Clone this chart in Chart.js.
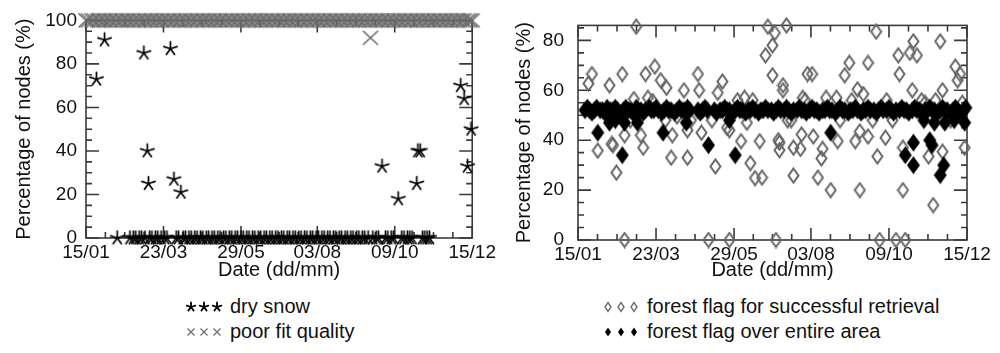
<!DOCTYPE html>
<html><head><meta charset="utf-8">
<script src="https://cdn.jsdelivr.net/npm/chart.js@4.4.0/dist/chart.umd.min.js"></script>
<style>
html,body{margin:0;padding:0;background:#fff;width:1000px;height:353px;overflow:hidden;font-family:"Liberation Sans",Arial,Helvetica,sans-serif;}
.wrap{position:absolute;top:0;width:500px;height:285px;}
.leg{position:absolute;font-size:20px;color:#111;white-space:nowrap;}
.leg .row{display:flex;align-items:center;height:25px;}
.leg svg{margin-right:6px;display:block;}
</style></head><body>
<div class="wrap" style="left:0"><canvas id="c1" width="500" height="285"></canvas></div>
<div class="wrap" style="left:500px"><canvas id="c2" width="500" height="285"></canvas></div>

<div class="leg" style="left:186px;top:294px">
  <div class="row"><svg width="38" height="12" viewBox="0 0 38 12">
    <g stroke="#000" stroke-width="1.8" stroke-linecap="round">
      <path d="M5 6V1.5M5 6L9.3 4.6M5 6L7.6 9.6M5 6L2.4 9.6M5 6L0.7 4.6"/>
      <path d="M18 6V1.5M18 6L22.3 4.6M18 6L20.6 9.6M18 6L15.4 9.6M18 6L13.7 4.6"/>
      <path d="M31 6V1.5M31 6L35.3 4.6M31 6L33.6 9.6M31 6L28.4 9.6M31 6L26.7 4.6"/>
    </g></svg><span>dry snow</span></div>
  <div class="row"><svg width="38" height="12" viewBox="0 0 38 12">
    <g stroke="#707070" stroke-width="1.3">
      <path d="M1.5 2.5L8.5 9.5M8.5 2.5L1.5 9.5"/>
      <path d="M14.5 2.5L21.5 9.5M21.5 2.5L14.5 9.5"/>
      <path d="M27.5 2.5L34.5 9.5M34.5 2.5L27.5 9.5"/>
    </g></svg><span>poor fit quality</span></div>
</div>

<div class="leg" style="left:603px;top:294px">
  <div class="row"><svg width="38" height="12" viewBox="0 0 38 12">
    <g stroke="#707070" stroke-width="1.4" fill="none">
      <path d="M5 1.5L8 6L5 10.5L2 6Z"/>
      <path d="M18 1.5L21 6L18 10.5L15 6Z"/>
      <path d="M31 1.5L34 6L31 10.5L28 6Z"/>
    </g></svg><span>forest flag for successful retrieval</span></div>
  <div class="row"><svg width="38" height="12" viewBox="0 0 38 12">
    <g fill="#000">
      <path d="M5 1.5L8 6L5 10.5L2 6Z"/>
      <path d="M18 1.5L21 6L18 10.5L15 6Z"/>
      <path d="M31 1.5L34 6L31 10.5L28 6Z"/>
    </g></svg><span>forest flag over entire area</span></div>
</div>

<script>
// ---------- axis ticks ----------
const xTickDays   = [15, 82, 149, 215, 282, 349];
const xTickLabels = ['15/01', '23/03', '29/05', '03/08', '09/10', '15/12'];
const leftYTicks  = [0, 20, 40, 60, 80, 100];
const rightYTicks = [0, 20, 40, 60, 80];

// ---------- left panel: dry snow (day of year, %) ----------
const snowDays = [24, 31, 65, 68, 69, 88, 91, 97, 271, 285, 301, 302, 304, 339, 342, 345, 348,
  42, 53, 56, 58, 61, 63, 66, 70, 72, 75,
  77, 80, 83, 85, 93, 95, 99, 101, 104, 106,
  109, 111, 114, 116, 119, 121, 124, 126, 129, 131,
  134, 136, 139, 141, 144, 146, 149, 151, 154, 156,
  159, 161, 164, 166, 169, 171, 174, 176, 179, 181,
  184, 186, 189, 191, 194, 196, 199, 201, 204, 206,
  209, 211, 214, 216, 219, 221, 224, 226, 229, 231,
  234, 236, 239, 241, 244, 246, 249, 251, 254, 256,
  259, 263, 266, 268, 274, 276, 279, 281, 288, 290,
  293, 295, 297, 306, 308, 310, 312];
const snowPct = [73, 91, 85, 40, 25, 87, 27, 21, 33, 18, 25, 40, 40, 70, 64, 33, 50,
  0, 0, 0, 0, 0, 0, 0, 0, 0, 0,
  0, 0, 0, 0, 0, 0, 0, 0, 0, 0,
  0, 0, 0, 0, 0, 0, 0, 0, 0, 0,
  0, 0, 0, 0, 0, 0, 0, 0, 0, 0,
  0, 0, 0, 0, 0, 0, 0, 0, 0, 0,
  0, 0, 0, 0, 0, 0, 0, 0, 0, 0,
  0, 0, 0, 0, 0, 0, 0, 0, 0, 0,
  0, 0, 0, 0, 0, 0, 0, 0, 0, 0,
  0, 0, 0, 0, 0, 0, 0, 0, 0, 0,
  0, 0, 0, 0, 0, 0, 0];

// ---------- left panel: poor fit quality ----------
const poorDays = [15, 17, 20, 22, 25, 27, 30, 32, 35, 37,
  40, 42, 45, 47, 50, 52, 55, 57, 60, 62,
  65, 67, 70, 72, 75, 77, 80, 82, 85, 87,
  90, 92, 95, 97, 100, 102, 105, 107, 110, 112,
  115, 117, 120, 122, 125, 127, 130, 132, 135, 137,
  140, 142, 145, 147, 150, 152, 155, 157, 160, 162,
  165, 167, 170, 172, 175, 177, 180, 182, 185, 187,
  190, 192, 195, 197, 200, 202, 205, 207, 210, 212,
  215, 217, 220, 222, 225, 227, 230, 232, 235, 237,
  240, 242, 245, 247, 250, 252, 255, 257, 260, 262,
  265, 267, 270, 272, 275, 277, 280, 282, 285, 287,
  290, 292, 295, 297, 300, 302, 305, 307, 310, 312,
  315, 317, 320, 322, 325, 327, 330, 332, 335, 337,
  340, 342, 345, 347, 349, 261];
const poorPct = [100, 100, 100, 100, 100, 100, 100, 100, 100, 100,
  100, 100, 100, 100, 100, 100, 100, 100, 100, 100,
  100, 100, 100, 100, 100, 100, 100, 100, 100, 100,
  100, 100, 100, 100, 100, 100, 100, 100, 100, 100,
  100, 100, 100, 100, 100, 100, 100, 100, 100, 100,
  100, 100, 100, 100, 100, 100, 100, 100, 100, 100,
  100, 100, 100, 100, 100, 100, 100, 100, 100, 100,
  100, 100, 100, 100, 100, 100, 100, 100, 100, 100,
  100, 100, 100, 100, 100, 100, 100, 100, 100, 100,
  100, 100, 100, 100, 100, 100, 100, 100, 100, 100,
  100, 100, 100, 100, 100, 100, 100, 100, 100, 100,
  100, 100, 100, 100, 100, 100, 100, 100, 100, 100,
  100, 100, 100, 100, 100, 100, 100, 100, 100, 100,
  100, 100, 100, 100, 100, 92];

// ---------- right panel: forest flag for successful retrieval ----------
const retrDays = [24, 27, 32, 42, 44, 45, 48, 53, 55, 55,
  63, 65, 69, 71, 73, 79, 81, 86, 91, 95,
  96, 100, 106, 109, 109, 118, 119, 121, 127, 133,
  135, 139, 143, 145, 145, 152, 155, 158, 163, 167,
  171, 173, 176, 178, 198, 182, 182, 184, 185, 188,
  188, 191, 191, 194, 200, 200, 206, 207, 208, 212,
  216, 217, 221, 224, 225, 232, 237, 238, 244, 248,
  253, 255, 257, 257, 260, 264, 264, 271, 272, 274,
  279, 288, 290, 291, 294, 294, 296, 300, 302, 303,
  306, 310, 316, 320, 326, 328, 328, 339, 341, 343,
  347, 187,
  60, 75, 90, 112, 130, 160, 165, 195, 210, 228,
  240, 250, 268, 280, 285, 313, 322, 335, 345];
const retrPct = [62.7, 66.5, 35.8, 62, 38.5, 38, 27, 66.5, 42, 0,
  56.5, 85.5, 42, 37, 66.5, 55.7, 69.5, 64, 61, 33,
  42, 49.5, 60, 44, 33, 66.5, 60, 43, 0, 29.5,
  59, 63.5, 45, 44, 0, 56, 39.6, 57, 30.8, 24.8,
  39.6, 25, 74, 85.5, 48, 66, 78, 83, 0, 39,
  36, 62, 60, 86, 25.8, 37, 36.5, 42.3, 57, 66.5,
  66.5, 41.5, 25, 32.7, 36.5, 20, 57, 39.6, 66, 71,
  39.6, 60.4, 20, 43.5, 58.5, 71, 41.5, 83.5, 33.5, 0,
  41, 0, 74, 66.5, 20, 37, 0, 75, 60, 79.6,
  74, 56, 33.5, 14, 79.6, 60, 35.4, 69.5, 64, 66.5,
  37, 40,
  48, 57, 48, 48, 48, 47, 56, 48, 56, 57,
  48, 56, 48, 56, 48, 55, 56, 48, 55];

// ---------- right panel: forest flag over entire area ----------
const areaDays = [21, 23, 25, 27, 29, 31, 34, 36, 38, 40,
  43, 45, 47, 49, 51, 54, 56, 58, 60, 62,
  65, 67, 69, 71, 73, 76, 78, 80, 82, 84,
  87, 89, 91, 93, 95, 98, 100, 102, 104, 106,
  109, 111, 118, 120, 122, 124, 126, 132, 134, 137,
  139, 141, 143, 145, 148, 150, 152, 154, 156, 159,
  161, 163, 165, 167, 170, 172, 174, 176, 178, 181,
  183, 185, 187, 189, 192, 194, 196, 198, 200, 203,
  205, 207, 209, 211, 214, 216, 218, 220, 222, 225,
  227, 229, 231, 233, 236, 238, 240, 242, 244, 247,
  249, 251, 253, 255, 258, 260, 262, 264, 266, 269,
  271, 273, 275, 277, 280, 282, 284, 286, 288, 291,
  293, 295, 297, 299, 302, 304, 306, 308, 310, 313,
  315, 317, 319, 321, 324, 326, 328, 330, 332, 335,
  337, 339, 341, 343, 346, 348,
  32, 42, 47, 53, 55, 66, 88, 108, 127, 150,
  145, 232, 296, 303, 303, 312, 317, 319, 321, 326,
  329, 330, 347, 338];
const areaPct = [52, 53, 52, 51, 52, 53, 52, 52, 51, 53,
  52, 52, 53, 52, 51, 52, 53, 52, 52, 51,
  53, 52, 52, 51, 52, 53, 52, 52, 53, 52,
  51, 52, 53, 52, 52, 51, 52, 53, 52, 52,
  53, 52, 52, 51, 52, 53, 52, 52, 51, 52,
  52, 53, 52, 52, 51, 52, 53, 52, 52, 51,
  52, 52, 53, 52, 51, 52, 52, 53, 52, 52,
  51, 52, 53, 52, 52, 53, 52, 51, 52, 52,
  53, 52, 52, 51, 52, 53, 52, 52, 51, 52,
  52, 53, 52, 52, 51, 52, 53, 52, 52, 51,
  52, 52, 53, 52, 51, 52, 52, 53, 52, 52,
  51, 52, 53, 52, 52, 53, 52, 51, 52, 52,
  53, 52, 52, 51, 52, 53, 52, 52, 51, 52,
  52, 53, 52, 52, 51, 52, 53, 52, 52, 51,
  52, 53, 52, 51, 52, 53,
  43, 47, 48, 34, 47, 47, 43, 47, 38, 34,
  48, 43, 34, 39, 30, 48, 40, 38, 47, 26,
  30, 47, 47, 48];

// ---------- marker images ----------
function mk(w, h, draw) {
  const c = document.createElement('canvas'); c.width = w; c.height = h;
  draw(c.getContext('2d'), w, h); return c;
}
const starImg = mk(17, 17, g => {
  g.strokeStyle = '#000'; g.lineWidth = 1.7; g.lineCap = 'round'; g.beginPath();
  for (let i = 0; i < 5; i++) {
    const a = -Math.PI / 2 + i * 2 * Math.PI / 5;
    g.moveTo(8.5, 8.5); g.lineTo(8.5 + 7 * Math.cos(a), 8.5 + 7 * Math.sin(a));
  }
  g.stroke();
});
const crossImg = mk(18, 18, g => {
  g.strokeStyle = '#6a6a6a'; g.lineWidth = 1.6; g.beginPath();
  g.moveTo(1.5, 2); g.lineTo(16.5, 16); g.moveTo(16.5, 2); g.lineTo(1.5, 16); g.stroke();
});
const openDiaImg = mk(13, 17, g => {
  g.strokeStyle = '#666'; g.lineWidth = 2; g.beginPath();
  g.moveTo(6.5, 1.5); g.lineTo(11.5, 8.5); g.lineTo(6.5, 15.5); g.lineTo(1.5, 8.5); g.closePath(); g.stroke();
});
const fillDiaImg = mk(15, 19, g => {
  g.fillStyle = '#000'; g.beginPath();
  g.moveTo(7.5, 0.5); g.lineTo(14, 9.5); g.lineTo(7.5, 18.5); g.lineTo(1, 9.5); g.closePath(); g.fill();
});

// ---------- box + inward ticks plugin ----------
const boxTicks = {
  id: 'boxTicks',
  beforeDatasetsDraw(chart, args, o) {
    const { ctx, chartArea: { left, right, top, bottom }, scales: { x, y } } = chart;
    ctx.save();
    ctx.strokeStyle = '#3a3a3a'; ctx.lineWidth = 1.6;
    ctx.strokeRect(left, top, right - left, bottom - top);
    ctx.beginPath();
    const xs = [];
    for (let i = 0; i < xTickDays.length; i++) {
      xs.push([xTickDays[i], 12]);
      if (i < xTickDays.length - 1) {
        const d = (xTickDays[i + 1] - xTickDays[i]) / 4;
        for (let k = 1; k < 4; k++) xs.push([xTickDays[i] + k * d, 6]);
      }
    }
    xs.forEach(([v, len]) => {
      const px = x.getPixelForValue(v);
      ctx.moveTo(px, bottom); ctx.lineTo(px, bottom - len);
      ctx.moveTo(px, top); ctx.lineTo(px, top + len);
    });
    for (let v = 0; v <= o.ymax + 0.001; v += 5) {
      const len = (v % 20 === 0) ? 13 : 6;
      const py = y.getPixelForValue(v);
      ctx.moveTo(left, py); ctx.lineTo(left + len, py);
      ctx.moveTo(right, py); ctx.lineTo(right - len, py);
    }
    ctx.stroke();
    ctx.restore();
  }
};

const FONT = '"Liberation Sans", Arial, Helvetica, sans-serif';
Chart.defaults.font.family = FONT;
Chart.defaults.color = '#111';

function pts(xs, ys) { return xs.map((d, i) => ({ x: d, y: ys[i] })); }

function makeChart(id, datasets, yMax, yTicks, pad, yWidth, xHeight, yPad) {
  return new Chart(document.getElementById(id), {
    type: 'scatter',
    data: { datasets },
    options: {
      responsive: false, animation: false,
      layout: { padding: pad },
      plugins: { legend: { display: false }, tooltip: { enabled: false }, boxTicks: { ymax: yMax } },
      scales: {
        x: {
          type: 'linear', min: 15, max: 349,
          afterBuildTicks: s => { s.ticks = xTickDays.map(v => ({ value: v })); },
          afterFit: s => { s.height = xHeight; },
          grid: { display: false, drawTicks: false }, border: { display: false },
          ticks: { autoSkip: false, maxRotation: 0, padding: 4, font: { size: 19, lineHeight: 1.1 },
                   callback: (v, i) => xTickLabels[i] },
          title: { display: true, text: 'Date (dd/mm)', font: { size: 20, lineHeight: 1.2 }, padding: { top: 0, bottom: 3 } }
        },
        y: {
          min: 0, max: yMax,
          afterBuildTicks: s => { s.ticks = yTicks.map(v => ({ value: v })); },
          afterFit: s => { s.width = yWidth; },
          grid: { display: false, drawTicks: false }, border: { display: false },
          ticks: { padding: yPad, font: { size: 19 } },
          title: { display: true, text: 'Percentage of nodes (%)', font: { size: 20, lineHeight: 1.2 }, padding: { top: 12, bottom: 0 } }
        }
      }
    },
    plugins: [boxTicks]
  });
}

makeChart('c1', [
  { label: 'dry snow', data: pts(snowDays, snowPct), pointStyle: starImg, order: 0, clip: false },
  { label: 'poor fit quality', data: pts(poorDays, poorPct), pointStyle: crossImg, order: 1, clip: false }
], 100, leftYTicks, { left: 0, right: 24, top: 20, bottom: 0 }, 86, 47, 9);

makeChart('c2', [
  { label: 'forest flag over entire area', data: pts(areaDays, areaPct), pointStyle: fillDiaImg, order: 0, clip: false },
  { label: 'forest flag for successful retrieval', data: pts(retrDays, retrPct), pointStyle: openDiaImg, order: 1, clip: false }
], 86, rightYTicks, { left: 0, right: 33, top: 18, bottom: 0 }, 78, 45, 14);
</script>
</body></html>
